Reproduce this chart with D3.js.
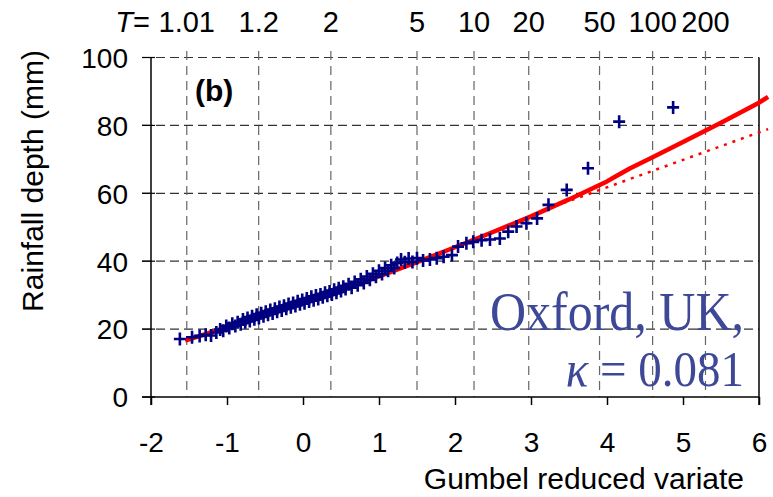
<!DOCTYPE html>
<html lang="en">
<head>
  <meta charset="UTF-8">
  <title>Oxford, UK - Gumbel plot</title>
  <style>
    body { margin: 0; background: #fff; overflow: hidden; }
    text { font-family: "Liberation Sans", Arial, sans-serif; fill: #000; }
    .hgrid { stroke: #333; stroke-width: 1.2; stroke-dasharray: 9,5; }
    .vgrid { stroke: #666; stroke-width: 1.2; stroke-dasharray: 9,6; }
    .frame { stroke: #000; stroke-width: 1.5; fill: none; }
  </style>
</head>
<body>
  <script src="https://d3js.org/d3.v7.min.js"></script>
  <script>
    // annual maximum rainfall, Oxford (Gumbel reduced variate vs depth in mm)
    const reducedVariate = [-1.62,-1.46,-1.36,-1.28,-1.21,
      -1.14,-1.09,-1.05,-1.01,-0.97,-0.93,-0.89,-0.86,-0.82,-0.79,
      -0.76,-0.73,-0.70,-0.67,-0.64,-0.61,-0.58,-0.55,-0.52,-0.49,-0.46,-0.43,-0.40,
      -0.37,-0.34,-0.31,-0.28,-0.25,-0.22,-0.19,-0.16,-0.13,-0.10,-0.07,-0.04,-0.01,
      0.02,0.05,0.08,0.11,0.14,0.17,0.20,0.23,0.26,0.29,0.32,0.35,0.38,0.41,0.44,0.47,0.50,0.53,0.56,
      0.60,0.64,0.68,0.72,0.76,0.80,0.84,0.88,0.92,0.96,1.00,1.04,1.08,1.12,1.16,1.20,
      1.24,1.29,1.34,1.39,1.44,1.50,
      1.58,1.67,1.76,1.85,1.96,
      2.04,2.15,2.24,2.35,2.46,2.59,2.70,2.81,2.94,3.08,3.23,3.47,
      3.75,4.16,4.87];
    const rainfallDepth = [17.1,17.6,18.0,18.3,18.1,
      19.0,19.9,19.5,20.9,20.3,21.6,20.9,22.0,21.4,22.8,
      22.0,23.3,22.4,23.8,22.9,24.2,23.3,24.7,23.8,25.1,24.2,25.6,24.6,
      26.0,25.1,26.5,25.5,26.9,26.0,27.4,26.4,27.7,26.8,28.2,27.3,28.6,
      27.6,29.0,28.1,29.5,28.5,29.9,28.9,30.2,29.4,30.7,29.8,31.1,30.2,31.6,30.7,32.0,31.2,32.5,31.8,
      33.2,32.2,33.9,32.9,34.7,33.6,35.5,34.5,36.3,35.4,37.2,36.2,38.0,37.2,38.8,38.0,
      39.5,40.5,39.7,40.8,39.8,40.9,
      40.2,40.5,40.9,41.3,41.8,
      44.3,45.3,45.7,46.2,46.4,46.7,48.7,50.2,51.2,52.6,56.6,61.0,
      67.4,81.1,85.3];

    // fitted curve (kappa = 0.081), solid
    const fitU = [-1.55,-1,-0.5,0,0.5,1,1.5,2,2.5,3,3.5,4,4.1,4.3,4.6,5,5.5,6,6.12];
    const fitDepth = [16.6,20.6,24.3,27.8,31.6,35.5,39.7,44.1,48.6,53.2,58.2,63.5,64.8,67.3,70.6,75.1,80.8,86.7,88.4];
    // Gumbel line (kappa = 0), dotted
    const gumbelU = [3.2,6.12];
    const gumbelDepth = [55.3,78.9];

    const xTicks = [-2,-1,0,1,2,3,4,5,6];
    const yTicks = [0,20,40,60,80,100];
    const returnPeriods = [1.01,1.2,2,5,10,20,50,100,200];

    const width = 773, height = 497;
    const svg = d3.select("body").append("svg")
      .attr("width", width)
      .attr("height", height);

    const x = d3.scaleLinear().domain([-2, 6]).range([151, 759]);
    const y = d3.scaleLinear().domain([0, 100]).range([397, 57.5]);
    // return period -> reduced variate
    const tToU = T => -Math.log(-Math.log(1 - 1 / T));

    // horizontal grid (also serves as left ticks)
    svg.append("g").selectAll("line")
      .data(yTicks.filter(d => d > 0))
      .enter().append("line")
      .attr("class", "hgrid")
      .attr("x1", 142).attr("x2", x(6))
      .attr("y1", d => y(d)).attr("y2", d => y(d));

    // vertical grid at return periods
    svg.append("g").selectAll("line")
      .data(returnPeriods)
      .enter().append("line")
      .attr("class", "vgrid")
      .attr("x1", d => x(tToU(d))).attr("x2", d => x(tToU(d)))
      .attr("y1", 51).attr("y2", y(0));

    // axes
    const xAxis = d3.axisBottom(x).tickValues(xTicks).tickSize(8).tickFormat(d3.format("d"));
    const gx = svg.append("g").attr("transform", `translate(0,${y(0)})`).call(xAxis);
    gx.select(".domain").remove();
    gx.selectAll(".tick line").attr("stroke", "#000").attr("stroke-width", 1.5);
    gx.selectAll(".tick text")
      .attr("y", 55).attr("dy", 0)
      .style("font-size", "28px")
      .style("font-family", "Liberation Sans, Arial, sans-serif")
      .text(d => d < 0 ? "-" + Math.abs(d) : d);

    const yAxis = d3.axisLeft(y).tickValues(yTicks).tickSize(0);
    const gy = svg.append("g").attr("transform", `translate(${x(-2)},0)`).call(yAxis);
    gy.select(".domain").remove();
    gy.selectAll(".tick text")
      .attr("x", -23).attr("dy", "0.35em")
      .style("font-size", "28px")
      .style("font-family", "Liberation Sans, Arial, sans-serif");

    // frame lines
    svg.append("line").attr("class", "frame")
      .attr("x1", 142).attr("x2", x(6)).attr("y1", y(0)).attr("y2", y(0));
    svg.append("line").attr("class", "frame")
      .attr("x1", x(-2)).attr("x2", x(-2)).attr("y1", y(100)).attr("y2", y(0) + 8);
    svg.append("line").attr("class", "frame")
      .attr("x1", x(6)).attr("x2", x(6)).attr("y1", y(100)).attr("y2", y(0) + 8);
    svg.append("g").selectAll("line")
      .data(yTicks)
      .enter().append("line")
      .attr("stroke", "#000").attr("stroke-width", 1.2)
      .attr("x1", 142).attr("x2", x(-2) + 4)
      .attr("y1", d => y(d)).attr("y2", d => y(d));

    // return period labels on top
    svg.append("g").selectAll("text")
      .data(returnPeriods)
      .enter().append("text")
      .attr("x", d => x(tToU(d)))
      .attr("y", 32)
      .attr("text-anchor", "middle")
      .style("font-size", "29px")
      .text(d => String(d));
    const tLab = svg.append("text")
      .attr("x", 150).attr("y", 32)
      .attr("text-anchor", "end")
      .style("font-size", "29px");
    tLab.append("tspan").style("font-style", "italic").text("T");
    tLab.append("tspan").text("=");

    // fitted lines
    const line = d3.line().x(d => x(d[0])).y(d => y(d[1]));
    svg.append("path")
      .datum(d3.zip(gumbelU, gumbelDepth))
      .attr("d", line)
      .attr("fill", "none")
      .attr("stroke", "#ff0000")
      .attr("stroke-width", 2.5)
      .attr("stroke-dasharray", "3,6");
    svg.append("path")
      .datum(d3.zip(fitU, fitDepth))
      .attr("d", line)
      .attr("fill", "none")
      .attr("stroke", "#ff0000")
      .attr("stroke-width", 4.5)
      .attr("stroke-linejoin", "round");

    // observations as + markers
    svg.append("g").selectAll("path")
      .data(d3.zip(reducedVariate, rainfallDepth))
      .enter().append("path")
      .attr("transform", d => `translate(${x(d[0])},${y(d[1])})`)
      .attr("d", "M-6,0H6M0,-6.5V6.5")
      .attr("stroke", "#000080")
      .attr("stroke-width", 2.6)
      .attr("fill", "none");

    // panel label
    svg.append("text")
      .attr("x", 195).attr("y", 101)
      .style("font-size", "30px")
      .style("font-weight", "bold")
      .text("(b)");

    // station label
    svg.append("text")
      .attr("transform", "translate(744,330) scale(1,1.1)")
      .attr("text-anchor", "end")
      .style("font-family", "Liberation Serif, Times New Roman, serif")
      .style("font-size", "50px")
      .style("fill", "#3d4897")
      .text("Oxford, UK,");
    const kap = svg.append("text")
      .attr("transform", "translate(744,386) scale(1,1.1)")
      .attr("text-anchor", "end")
      .style("font-family", "Liberation Serif, Times New Roman, serif")
      .style("font-size", "47px")
      .style("fill", "#3d4897");
    kap.append("tspan").style("font-style", "italic").text("κ");
    kap.append("tspan").text(" = 0.081");

    // axis titles
    svg.append("text")
      .attr("x", 744).attr("y", 489)
      .attr("text-anchor", "end")
      .style("font-size", "30px")
      .text("Gumbel reduced variate");
    svg.append("text")
      .attr("transform", "translate(43,181) rotate(-90)")
      .attr("text-anchor", "middle")
      .style("font-size", "30px")
      .text("Rainfall depth (mm)");
  </script>
</body>
</html>
